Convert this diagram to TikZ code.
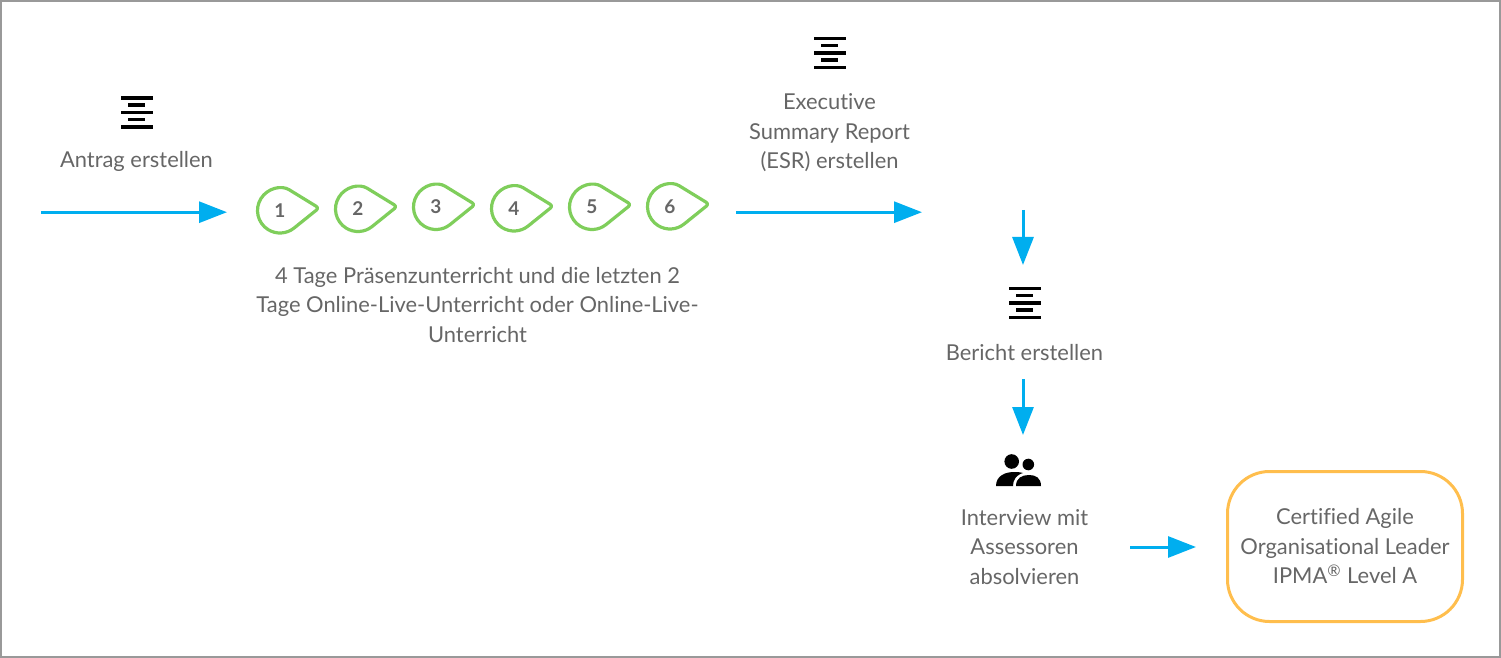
\documentclass[tikz,border=0pt]{standalone}
\usepackage{fontspec}
\setmainfont[Ligatures=NoCommon]{Lato}
\usetikzlibrary{arrows.meta}
\definecolor{txt}{HTML}{666666}
\definecolor{flow}{HTML}{00AEEF}
\definecolor{drop}{HTML}{7FCE5B}
\definecolor{gold}{HTML}{FFBE4D}
\definecolor{frame}{HTML}{999999}
\tikzset{
  x=0.5pt,y=-0.5pt,
  label/.style={text=txt,font=\fontsize{10.95}{14.75}\selectfont,align=center,inner sep=0pt},
  flowline/.style={draw=flow,line width=1.5pt,-{Triangle[length=14pt,width=10.5pt]}},
  dropnode/.style={circle,minimum size=22.5pt,inner sep=0pt,outer sep=0pt,text=txt,font=\fontsize{9.5}{10}\selectfont\bfseries},
  dropline/.style={draw=drop,line width=1.6pt,line join=round},
  bar/.style={draw=black,line width=1.65pt},
  certbox/.style={draw=gold,line width=1.5pt,rounded corners=21pt,minimum width=117.5pt,minimum height=75pt,inner sep=0pt},
}
\newcommand{\aligicon}[2]{%
  \begin{scope}[shift={(#1,#2)}]
    \draw[bar] (-16,-14.5) -- (16,-14.5);
    \draw[bar] (-9,-7.5) -- (8,-7.5);
    \draw[bar] (-16,0) -- (16,0);
    \draw[bar] (-9,7) -- (8,7);
    \draw[bar] (-16,14.5) -- (16,14.5);
  \end{scope}}
\newcommand{\dropmark}[4]{% name, x, y, digit
  \node[dropnode] (#1) at (#2,#3) {#4};
  \coordinate (#1tip) at ([shift={(39,-2.5)}]#1.center);
  \draw[dropline,rounded corners=1.5pt] (#1.309) -- (#1tip) -- (#1.58) [sharp corners] arc[start angle=58,end angle=309,radius=11.25pt] -- cycle;}
\begin{document}
\begin{tikzpicture}
\useasboundingbox (0,0) rectangle (1501,658);
\draw[frame,line width=1pt] (1,1) rectangle (1500,657);

\aligicon{137}{112.5}
\node[label] (antrag) at (136.5,161) {Antrag erstellen};
\coordinate (a1s) at (41,212.2);
\coordinate (a1e) at (227,212.2);
\draw[flowline] (a1s) -- (a1e);

\dropmark{d1}{280}{210.5}{1}
\dropmark{d2}{358}{209}{2}
\dropmark{d3}{436}{207}{3}
\dropmark{d4}{514}{208.5}{4}
\dropmark{d5}{592}{207}{5}
\dropmark{d6}{670}{206.5}{6}

\node[label] (kurs) at (477.5,305) {4 Tage Präsenzunterricht und die letzten 2\\Tage Online-Live-Unterricht oder Online-Live-\\Unterricht};

\coordinate (a2s) at (736,212.2);
\coordinate (a2e) at (922,212.2);
\draw[flowline] (a2s) -- (a2e);

\aligicon{830}{53}
\node[label] (esr) at (829.5,133) {Executive\\Summary Report\\(ESR) erstellen};

\coordinate (a3s) at (1023,210);
\coordinate (a3e) at (1023,265);
\draw[flowline] (a3s) -- (a3e);

\aligicon{1025}{303}
\node[label] (bericht) at (1024.5,353) {Bericht erstellen};

\coordinate (a4s) at (1023,379);
\coordinate (a4e) at (1023,435);
\draw[flowline] (a4s) -- (a4e);

% people icon
\fill[black] (1011.7,461.5) circle (7.3);
\fill[black] (1028.3,464.5) circle (5.8);
\fill[black] (996,486) .. controls (996,476) and (1005,471.5) .. (1016,472) .. controls (1019,472) and (1021,472.5) .. (1023,473) .. controls (1016,475) and (1013,480) .. (1013,486) -- cycle;
\fill[black] (1016,486) .. controls (1016,478) and (1022,475) .. (1029,475) .. controls (1036,475) and (1041,478) .. (1041,486) -- cycle;

\node[label] (interview) at (1024.5,547) {Interview mit\\Assessoren\\absolvieren};

\coordinate (a5s) at (1130,547);
\coordinate (a5e) at (1196,547);
\draw[flowline] (a5s) -- (a5e);

\node[certbox,label] (cert) at (1345,546.5) {Certified Agile\\Organisational Leader\\IPMA\textsuperscript{®} Level A};
\end{tikzpicture}
\end{document}
